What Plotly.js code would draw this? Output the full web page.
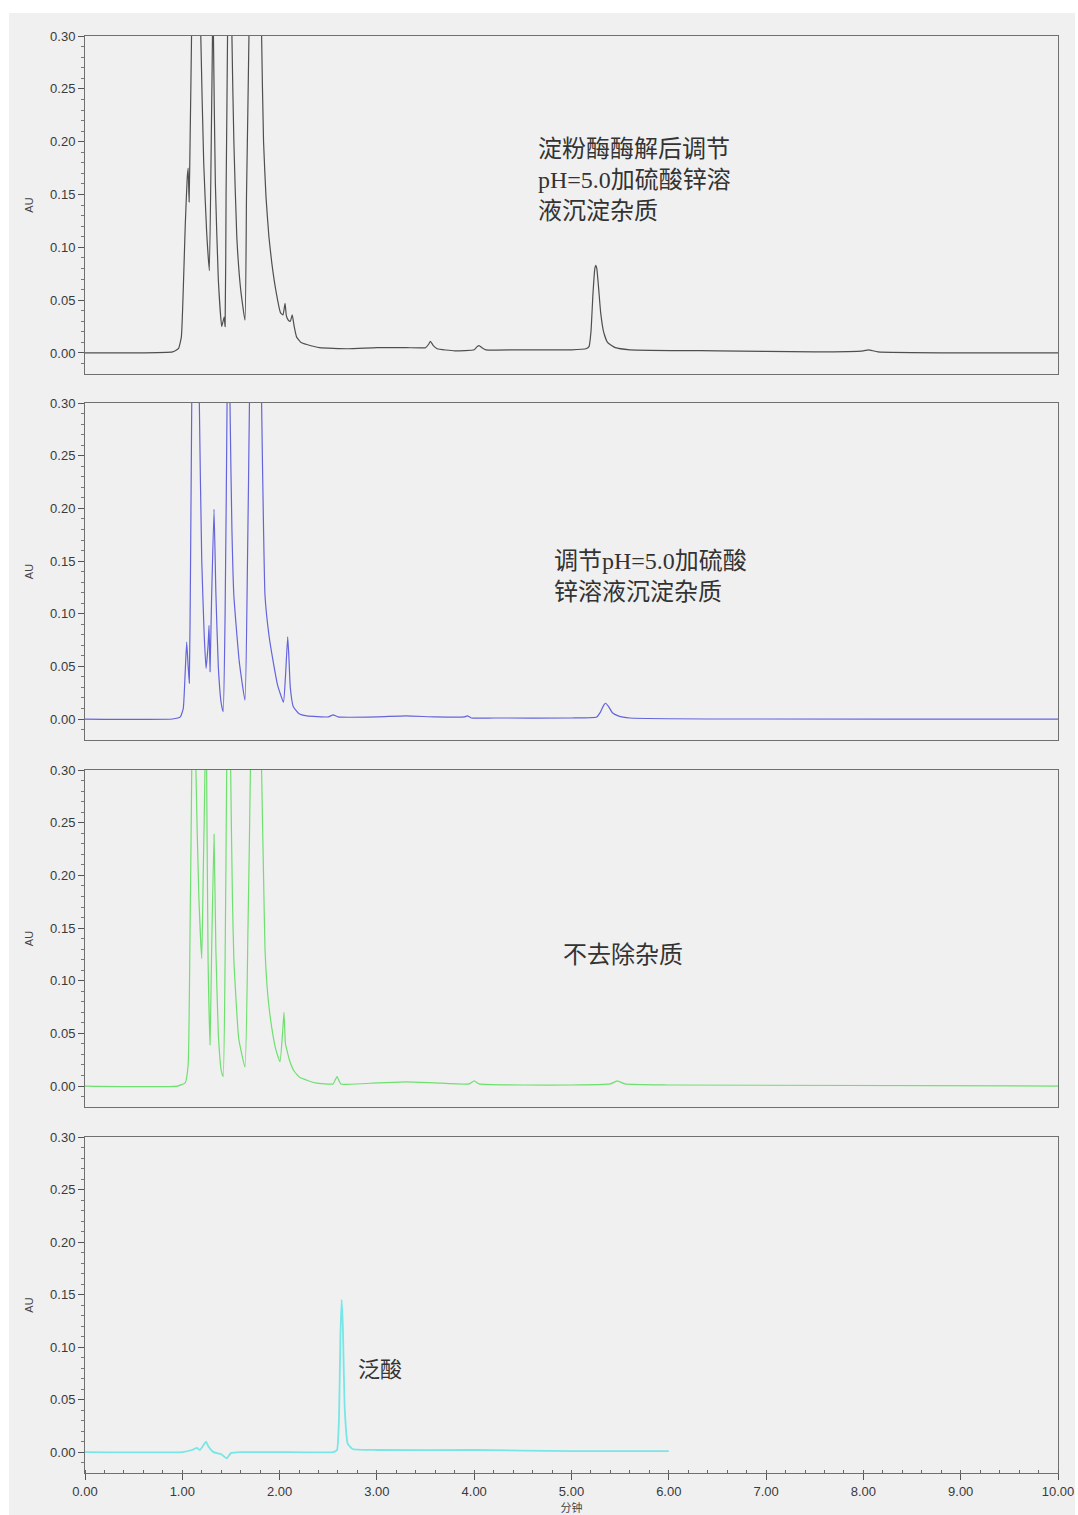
<!DOCTYPE html>
<html>
<head>
<meta charset="utf-8">
<script src="https://cdn.plot.ly/plotly-3.0.1.min.js"></script>
<style>html,body{margin:0;padding:0;background:#fff;}#chart{width:1078px;height:1515px;}</style>
</head>
<body>
<div id="chart"></div>
<script>
// Panel 1: 淀粉酶酶解后调节 pH=5.0 加硫酸锌溶液沉淀杂质
const p1_x = [0.00,0.50,0.90,0.96,0.99,1.01,1.03,1.05,1.06,1.07,1.08,1.095,1.14,1.19,1.22,1.25,1.278,1.30,1.31,1.315,1.32,1.34,1.37,1.405,1.43,1.44,1.45,1.465,1.49,1.51,1.53,1.56,1.60,1.644,1.66,1.685,1.75,1.815,1.835,1.86,1.89,1.92,1.96,2.01,2.035,2.056,2.07,2.09,2.11,2.13,2.15,2.175,2.22,2.28,2.41,2.7,3.0,3.3,3.5,3.53,3.55,3.58,3.62,3.8,4.0,4.03,4.05,4.08,4.12,4.5,5.0,5.15,5.18,5.20,5.22,5.24,5.25,5.26,5.28,5.30,5.33,5.37,5.45,5.6,6.5,7.5,8.0,8.05,8.15,9.0,10.0];
const p1_y = [0.000,0.000,0.001,0.004,0.015,0.060,0.120,0.165,0.175,0.143,0.200,0.300,0.800,0.300,0.180,0.115,0.078,0.220,0.300,0.500,0.300,0.160,0.070,0.025,0.034,0.025,0.150,0.300,0.900,0.300,0.200,0.110,0.060,0.031,0.150,0.300,1.200,0.300,0.200,0.148,0.110,0.085,0.060,0.038,0.036,0.047,0.035,0.031,0.030,0.036,0.025,0.015,0.010,0.008,0.005,0.004,0.005,0.005,0.005,0.008,0.011,0.007,0.004,0.002,0.003,0.006,0.007,0.005,0.003,0.003,0.003,0.004,0.006,0.020,0.055,0.080,0.083,0.080,0.060,0.038,0.020,0.010,0.005,0.003,0.002,0.001,0.002,0.003,0.001,0.000,0.000];

// Panel 2: 调节 pH=5.0 加硫酸锌溶液沉淀杂质
const p2_x = [0.00,0.90,0.98,1.01,1.03,1.045,1.06,1.072,1.085,1.097,1.14,1.175,1.20,1.225,1.244,1.265,1.275,1.285,1.30,1.326,1.345,1.37,1.40,1.42,1.44,1.46,1.475,1.49,1.51,1.53,1.586,1.644,1.67,1.69,1.75,1.815,1.835,1.85,1.89,1.935,1.98,2.04,2.06,2.083,2.095,2.11,2.14,2.20,2.28,2.50,2.55,2.60,3.0,3.3,3.6,3.90,3.93,3.97,4.2,5.0,5.26,5.30,5.33,5.35,5.38,5.42,5.48,5.6,10.0];
const p2_y = [0.000,0.000,0.002,0.010,0.045,0.073,0.050,0.034,0.150,0.300,0.900,0.300,0.150,0.080,0.048,0.070,0.089,0.045,0.110,0.199,0.120,0.050,0.015,0.007,0.100,0.300,0.600,0.300,0.180,0.117,0.054,0.018,0.150,0.300,1.200,0.300,0.180,0.117,0.080,0.054,0.032,0.016,0.040,0.078,0.060,0.030,0.012,0.005,0.003,0.002,0.004,0.002,0.002,0.003,0.002,0.002,0.003,0.001,0.001,0.001,0.002,0.007,0.013,0.015,0.012,0.006,0.003,0.001,0.000];

// Panel 3: 不去除杂质
const p3_x = [0.00,0.95,1.03,1.06,1.08,1.097,1.12,1.14,1.17,1.20,1.215,1.233,1.24,1.25,1.265,1.285,1.30,1.326,1.345,1.37,1.40,1.42,1.44,1.456,1.475,1.497,1.515,1.53,1.58,1.644,1.675,1.70,1.76,1.815,1.835,1.85,1.88,1.92,1.96,2.004,2.03,2.045,2.06,2.07,2.10,2.15,2.21,2.37,2.55,2.59,2.63,3.0,3.3,3.6,3.95,4.0,4.05,5.0,5.40,5.47,5.55,6.0,10.0];
const p3_y = [0.000,0.000,0.003,0.020,0.150,0.300,0.800,0.300,0.180,0.121,0.200,0.300,0.500,0.300,0.120,0.039,0.120,0.239,0.130,0.050,0.015,0.009,0.120,0.300,0.700,0.300,0.180,0.120,0.045,0.018,0.150,0.300,1.200,0.300,0.200,0.130,0.085,0.055,0.035,0.023,0.050,0.070,0.040,0.036,0.025,0.014,0.008,0.003,0.002,0.009,0.002,0.003,0.004,0.003,0.002,0.005,0.002,0.001,0.002,0.005,0.002,0.001,0.000];

// Panel 4: 泛酸 standard
const p4_x = [0.00,1.00,1.10,1.15,1.18,1.22,1.244,1.27,1.32,1.40,1.456,1.50,1.60,2.00,2.55,2.59,2.61,2.625,2.638,2.65,2.67,2.70,2.75,3.0,4.0,5.0,6.0];
const p4_y = [0.000,0.000,0.002,0.004,0.002,0.007,0.010,0.005,0.000,-0.002,-0.006,-0.001,0.000,0.000,0.000,0.002,0.030,0.110,0.145,0.120,0.040,0.008,0.003,0.002,0.002,0.001,0.001];

const yTickVals = [0.00,0.05,0.10,0.15,0.20,0.25,0.30];
const yTickText = ['0.00','0.05','0.10','0.15','0.20','0.25','0.30'];
const xTickVals = [0,1,2,3,4,5,6,7,8,9,10];
const xTickText = ['0.00','1.00','2.00','3.00','4.00','5.00','6.00','7.00','8.00','9.00','10.00'];

const labels = [
  '淀粉酶酶解后调节<br>pH=5.0加硫酸锌溶<br>液沉淀杂质',
  '调节pH=5.0加硫酸<br>锌溶液沉淀杂质',
  '不去除杂质',
  '泛酸'
];

const colors = ['#4f4f4f','#6464dc','#6ee06e','#78e6e6'];
const domains = [[0.7648,1.0],[0.5101,0.7446],[0.2547,0.4892],[0.0,0.2338]];

const traces = [
  {x:p1_x,y:p1_y,xaxis:'x',yaxis:'y'},
  {x:p2_x,y:p2_y,xaxis:'x2',yaxis:'y2'},
  {x:p3_x,y:p3_y,xaxis:'x3',yaxis:'y3'},
  {x:p4_x,y:p4_y,xaxis:'x4',yaxis:'y4'}
].map((t,i)=>Object.assign(t,{type:'scatter',mode:'lines',line:{color:colors[i],width:i===3?1.8:1.2,shape:'spline',smoothing:0.4},hoverinfo:'skip',showlegend:false}));

const tickFont = {family:'Liberation Sans, Arial, sans-serif', size:13, color:'#3a3a3a'};
const layout = {
  width:1078, height:1515,
  margin:{l:85,r:20,t:36,b:42},
  paper_bgcolor:'#ffffff',
  plot_bgcolor:'rgba(0,0,0,0)',
  showlegend:false,
  shapes:[{type:'rect',xref:'paper',yref:'paper',x0:-0.0781,x1:1.0175,y0:-0.0292,y1:1.016,fillcolor:'#f0f0f0',line:{width:0},layer:'below'}],
  annotations:[]
};

const annPos = [
  {x:4.64,y:0.207,xanchor:'left',yanchor:'top',size:24},
  {x:4.80,y:0.164,xanchor:'left',yanchor:'top',size:24},
  {x:5.53,y:0.124,xanchor:'center',yanchor:'middle',size:24},
  {x:3.03,y:0.081,xanchor:'center',yanchor:'middle',size:22}
];

for (let i=0;i<4;i++){
  const s = i===0?'':String(i+1);
  const last = i===3;
  layout['xaxis'+s] = {
    domain:[0,1], range:[0,10], anchor:'y'+s,
    showline:true, mirror:true, linecolor:'#707070', linewidth:1,
    showgrid:false, zeroline:false,
    showticklabels:last,
    ticks: last?'outside':'', ticklen:6, tickcolor:'#555',
    tickvals: last?xTickVals:[], ticktext: last?xTickText:[],
    tickfont:tickFont,
    minor: last?{dtick:0.2,tick0:0,ticks:'inside',ticklen:3,tickcolor:'#666'}:undefined,
    title: last?{text:'分钟',font:{family:'Noto Sans CJK SC',size:11,color:'#444'},standoff:2}:{text:''},
    fixedrange:true
  };
  layout['yaxis'+s] = {
    domain:domains[i], range:[-0.0199,0.3001], anchor:'x'+s,
    showline:true, mirror:true, linecolor:'#707070', linewidth:1,
    showgrid:false, zeroline:false,
    ticks:'outside', ticklen:6, tickcolor:'#555',
    tickvals:yTickVals, ticktext:yTickText,
    tickfont:tickFont,
    minor:{dtick:0.01,tick0:0,ticks:'outside',ticklen:3,tickcolor:'#777'},
    title:{text:'AU',font:{family:'Liberation Sans, Arial, sans-serif',size:11,color:'#444'},standoff:14},
    fixedrange:true
  };
  const a = annPos[i];
  layout.annotations.push({
    xref:'x'+s, yref:'y'+s, x:a.x, y:a.y, xanchor:a.xanchor, yanchor:a.yanchor,
    text:labels[i], showarrow:false, align:'left',
    font:{family: i===3?'Noto Sans CJK SC':'Liberation Serif, Noto Sans CJK SC', size:a.size, color:'#333'}
  });
}

Plotly.newPlot('chart', traces, layout, {displayModeBar:false, staticPlot:true});
</script>
</body>
</html>
